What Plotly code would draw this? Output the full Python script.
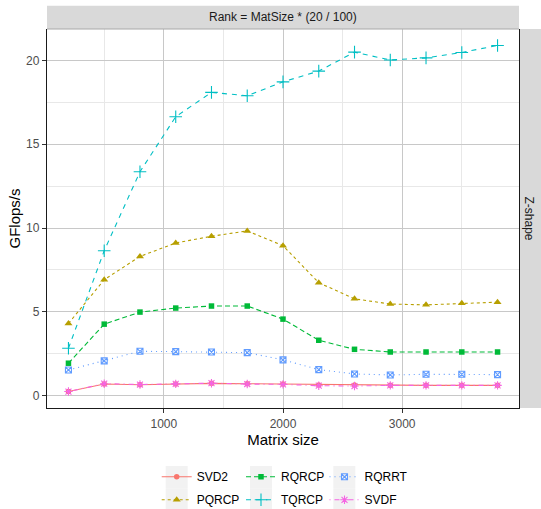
import plotly.graph_objects as go

sizes = [200, 500, 800, 1100, 1400, 1700, 2000, 2300, 2600, 2900, 3200, 3500, 3800]
svd2 = [0.25, 0.70, 0.66, 0.70, 0.74, 0.72, 0.70, 0.64, 0.64, 0.62, 0.62, 0.62, 0.62]
pqrcp = [4.31, 6.92, 8.31, 9.11, 9.51, 9.83, 8.95, 6.74, 5.78, 5.47, 5.42, 5.52, 5.58]
rqrcp = [1.94, 4.27, 4.99, 5.23, 5.35, 5.35, 4.57, 3.31, 2.77, 2.61, 2.61, 2.61, 2.61]
tqrcp = [2.83, 8.65, 13.36, 16.64, 18.09, 17.89, 18.72, 19.36, 20.49, 20.02, 20.15, 20.47, 20.89]
rqrrt = [1.54, 2.08, 2.65, 2.63, 2.61, 2.57, 2.14, 1.56, 1.30, 1.24, 1.28, 1.28, 1.26]
svdf = [0.25, 0.72, 0.67, 0.71, 0.75, 0.70, 0.68, 0.60, 0.58, 0.62, 0.62, 0.62, 0.62]

x_ticks = [1000, 2000, 3000]
y_ticks = [0, 5, 10, 15, 20]
strip_top = "Rank = MatSize * (20 / 100)"
strip_right = "Z-shape"

W, H = 541, 509
L, R, T, B = 47, 519, 29, 408  # panel pixel box
FONT = "Liberation Sans, Arial, Helvetica, sans-serif"


def px(xp):
    return (xp - L) / (R - L)


def py(yp):
    return (B - yp) / (B - T)


series = [
    # name, values, colour, dash, symbol, size, legend
    ("SVD2", svd2, "#F8766D", "solid", "circle", 5.5, "legend"),
    ("PQRCP", pqrcp, "#B79F00", "3px,3px", "triangle-up", 7, "legend"),
    ("RQRCP", rqrcp, "#00BA38", "5px,3px", "square", 5.5, "legend2"),
    ("TQRCP", tqrcp, "#00BFC4", "5px,5px", "cross-thin-open", 9, "legend2"),
    ("RQRRT", rqrrt, "#619CFF", "1px,4px", "square-x-open", 6, "legend3"),
    ("SVDF", svdf, "#F564E3", "1px,4px,5px,4px", "asterisk-open", 7, "legend3"),
]

fig = go.Figure()
for name, vals, col, dash, sym, sz, leg in series:
    marker = dict(symbol=sym, size=sz, color=col)
    if sym.endswith("open"):
        marker["line"] = dict(color=col, width=1.1)
    fig.add_trace(go.Scatter(
        x=sizes, y=vals, name=name, mode="lines+markers",
        line=dict(color=col, width=1.1, dash=dash),
        marker=marker, legend=leg, legendgroup=name,
    ))

shapes = []
# top strip
shapes.append(dict(type="rect", xref="paper", yref="paper", x0=px(L), x1=px(R),
                   y0=py(T), y1=py(5.7), fillcolor="#D9D9D9", line=dict(width=0), layer="below"))
# right strip
shapes.append(dict(type="rect", xref="paper", yref="paper", x0=px(R), x1=px(541),
                   y0=py(B), y1=py(T), fillcolor="#D9D9D9", line=dict(width=0), layer="below"))
# top border of panel
shapes.append(dict(type="line", xref="paper", yref="paper", x0=0, x1=1, y0=1, y1=1,
                   line=dict(color="#A8A8A8", width=1)))
# legend key backgrounds
for kx in [165.7, 250.0, 333.3]:
    for y0, y1 in [(466.0, 488.7), (488.7, 511.0)]:
        shapes.append(dict(type="rect", xref="paper", yref="paper",
                           x0=px(kx), x1=px(kx + 22), y0=py(y1), y1=py(y0),
                           fillcolor="#F2F2F2", line=dict(width=0), layer="below"))

annotations = [
    dict(text=strip_top, xref="paper", yref="paper", x=0.5, y=py(17.5),
         showarrow=False, font=dict(family=FONT, size=12, color="#1A1A1A"),
         xanchor="center", yanchor="middle"),
    dict(text=strip_right, xref="paper", yref="paper", x=px(529), y=0.5,
         showarrow=False, textangle=90, font=dict(family=FONT, size=12, color="#1A1A1A"),
         xanchor="center", yanchor="middle"),
]

leg_common = dict(orientation="v", bgcolor="rgba(0,0,0,0)", borderwidth=0,
                  font=dict(family=FONT, size=12, color="#000000"),
                  xanchor="left", yanchor="top", tracegroupgap=4, itemwidth=30)

fig.update_layout(
    width=W, height=H,
    margin=dict(l=L, r=W - R, t=T, b=H - B, pad=0, autoexpand=False),
    paper_bgcolor="white", plot_bgcolor="white",
    font=dict(family=FONT, size=12, color="#4D4D4D"),
    shapes=shapes, annotations=annotations,
    showlegend=True,
    legend=dict(x=px(156.7), y=py(462.3), **leg_common),
    legend2=dict(x=px(241), y=py(462.3), **leg_common),
    legend3=dict(x=px(324.5), y=py(462.3), **leg_common),
    xaxis=dict(
        range=[20, 3980], tickvals=x_ticks, ticktext=[str(v) for v in x_ticks],
        showgrid=True, gridcolor="#C8C8C8", gridwidth=1,
        minor=dict(dtick=500, showgrid=True, gridcolor="#E8E8E8", gridwidth=0.8, ticks=""),
        zeroline=False, showline=True, linecolor="#1A1A1A", linewidth=1.3, mirror=False,
        ticks="outside", ticklen=4, tickcolor="#333333", tickwidth=1,
        tickfont=dict(family=FONT, size=12, color="#4D4D4D"),
        title=dict(text="Matrix size", font=dict(family=FONT, size=15, color="#000000"), standoff=2),
        automargin=False,
    ),
    yaxis=dict(
        range=[-0.73, 21.87], tickvals=y_ticks, ticktext=[str(v) for v in y_ticks],
        showgrid=True, gridcolor="#C8C8C8", gridwidth=1,
        minor=dict(dtick=2.5, tick0=0, showgrid=True, gridcolor="#E8E8E8", gridwidth=0.8, ticks=""),
        zeroline=False, showline=True, linecolor="#1A1A1A", linewidth=1.3, mirror=True,
        ticks="outside", ticklen=4, tickcolor="#333333", tickwidth=1,
        tickfont=dict(family=FONT, size=12, color="#4D4D4D"),
        title=dict(text="GFlops/s", font=dict(family=FONT, size=15, color="#000000"), standoff=1),
        automargin=False,
    ),
)

fig.write_html(
    "out.html",
    config={"displayModeBar": False},
    post_script="document.body.style.margin='0';document.body.style.overflow='hidden';",
)
